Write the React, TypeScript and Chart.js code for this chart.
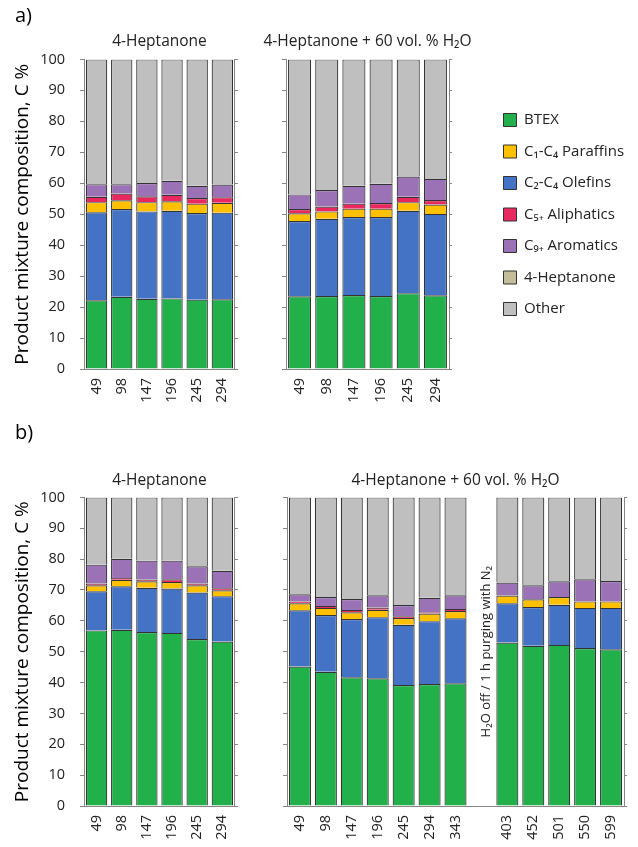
import React, { useEffect, useRef } from 'react';
import { Chart, registerables } from 'chart.js';

Chart.register(...registerables);

const FONT = '"Open Sans", "DejaVu Sans", sans-serif';
const TEXT = '#222222';
const AXIS = '#868686';
const EDGE = '#333333';

// ---- series (legend order) ----
const seriesNames = ['BTEX', 'C₁-C₄ Paraffins', 'C₂-C₄ Olefins', 'C₅₊ Aliphatics', 'C₉₊ Aromatics', '4-Heptanone', 'Other'];
const seriesColors = ['#22b04b', '#ffc000', '#4472c4', '#ea2860', '#9b72b5', '#c4bd97', '#bfbfbf'];

// ---- categories (time on stream, min) ----
const catsA = ['49', '98', '147', '196', '245', '294'];
const catsBRight = ['49', '98', '147', '196', '245', '294', '343', '', '403', '452', '501', '550', '599'];

// ---- panel a) 4-Heptanone ----
const aLeftBTEX = [22.2, 23.3, 22.7, 22.8, 22.4, 22.5];
const aLeftParaffins = [3.3, 2.8, 3.0, 3.1, 3.0, 3.2];
const aLeftOlefins = [28.4, 28.4, 28.2, 28.3, 28.0, 28.0];
const aLeftC5 = [1.7, 2.2, 1.9, 2.1, 1.8, 1.8];
const aLeftC9 = [4.1, 3.0, 4.3, 4.5, 4.0, 4.1];
const aLeftHeptanone = [0, 0, 0, 0, 0, 0];
const aLeftOther = [40.3, 40.3, 39.9, 39.2, 40.8, 40.4];

// ---- panel a) 4-Heptanone + 60 vol.% H2O ----
const aRightBTEX = [23.5, 23.6, 23.9, 23.6, 24.5, 23.8];
const aRightParaffins = [2.5, 2.4, 2.7, 2.7, 2.8, 3.0];
const aRightOlefins = [24.3, 24.9, 25.2, 25.5, 26.6, 26.3];
const aRightC5 = [1.4, 1.6, 1.6, 1.8, 1.7, 1.5];
const aRightC9 = [4.7, 5.3, 5.8, 6.2, 6.6, 6.8];
const aRightHeptanone = [0, 0, 0, 0, 0, 0];
const aRightOther = [43.6, 42.2, 40.8, 40.2, 37.8, 38.6];

// ---- panel b) 4-Heptanone ----
const bLeftBTEX = [56.9, 57.1, 56.4, 56.1, 54.1, 53.3];
const bLeftParaffins = [1.9, 2.1, 2.1, 2.1, 2.3, 1.9];
const bLeftOlefins = [12.7, 14.1, 14.3, 14.4, 15.1, 14.7];
const bLeftC5 = [0.6, 0.6, 0.6, 0.9, 0.6, 0.7];
const bLeftC9 = [6.1, 6.2, 6.1, 6.0, 5.6, 5.6];
const bLeftHeptanone = [0, 0, 0, 0, 0, 0];
const bLeftOther = [21.8, 19.9, 20.5, 20.5, 22.3, 23.8];

// ---- panel b) 4-Heptanone + 60 vol.% H2O (slot 8 = H2O off) ----
const bRightBTEX = [45.2, 43.5, 41.7, 41.4, 39.2, 39.5, 39.8, null, 53.0, 51.9, 52.2, 51.2, 50.8];
const bRightParaffins = [2.3, 2.3, 2.2, 2.4, 2.2, 2.5, 2.4, null, 2.5, 2.5, 2.5, 2.1, 2.1];
const bRightOlefins = [18.2, 18.4, 18.9, 19.8, 19.5, 20.4, 21.0, null, 12.7, 12.6, 13.0, 13.0, 13.4];
const bRightC5 = [0.6, 0.6, 0.7, 0.7, 0.6, 0.4, 0.6, null, 0, 0, 0, 0, 0];
const bRightC9 = [2.3, 2.9, 3.6, 4.0, 3.6, 4.7, 4.5, null, 4.2, 4.5, 5.1, 7.2, 6.6];
const bRightHeptanone = [0, 0, 0, 0, 0, 0, 0, null, 0, 0, 0, 0, 0];
const bRightOther = [31.4, 32.3, 32.9, 31.7, 34.9, 32.5, 31.7, null, 27.6, 28.5, 27.2, 26.5, 27.1];

const yTicks = { min: 0, max: 100, step: 10 };
const yTitleText = 'Product mixture composition, C %';
const titleA = '4-Heptanone';
const titleWater = '4-Heptanone + 60 vol. % H₂O';
const gapIndex = 7;
const gapNote = 'H₂O off / 1 h purging with N₂';
const gapNoteLevel = 50;

// stacking order (bottom -> top): BTEX, Olefins, Paraffins, C5+, C9+, 4-Heptanone, Other
const stackOrder = [0, 2, 1, 3, 4, 5, 6];

function buildDatasets(values: (number | null)[][]) {
  return stackOrder.map((si) => ({
    label: seriesNames[si],
    data: values[si],
    backgroundColor: seriesColors[si],
    borderColor: EDGE,
    borderWidth: 1.2,
    barPercentage: 0.85,
    categoryPercentage: 1,
  }));
}

type Geo = {
  padLeft: number;
  padTop: number;
  padRight: number;
  yWidth: number;
  y2Width: number;
  xHeight: number;
  showY: boolean;
  corner?: string;
  cornerPad?: { top: number; bottom: number };
  subtitle: string;
  subFull?: boolean;
  subPadBottom: number;
};

const gapNotePlugin = {
  id: 'gapNote',
  afterDatasetsDraw(chart: any) {
    const { ctx, scales } = chart;
    const px = scales.x.getPixelForValue(gapIndex);
    const py = scales.y.getPixelForValue(gapNoteLevel);
    ctx.save();
    ctx.translate(px + 5, py);
    ctx.rotate(-Math.PI / 2);
    ctx.textAlign = 'center';
    ctx.textBaseline = 'middle';
    ctx.font = `13px ${FONT}`;
    ctx.fillStyle = TEXT;
    ctx.fillText(gapNote, 0, 0);
    ctx.restore();
  },
};

function barConfig(labels: string[], values: (number | null)[][], g: Geo, withNote = false): any {
  return {
    type: 'bar',
    data: { labels, datasets: buildDatasets(values) },
    plugins: withNote ? [gapNotePlugin] : [],
    options: {
      responsive: false,
      animation: false,
      events: [],
      layout: { padding: { left: g.padLeft, top: g.padTop, right: g.padRight, bottom: 0 } },
      plugins: {
        legend: { display: false },
        tooltip: { enabled: false },
        title: {
          display: !!g.corner,
          text: g.corner || '',
          align: 'start',
          fullSize: true,
          color: '#000',
          font: { family: FONT, size: 20, weight: 'normal' },
          padding: g.cornerPad || { top: 0, bottom: 0 },
        },
        subtitle: {
          display: true,
          text: g.subtitle,
          fullSize: !!g.subFull,
          color: TEXT,
          font: { family: FONT, size: 15.5, weight: 'normal' },
          padding: { top: 0, bottom: g.subPadBottom },
        },
      },
      scales: {
        x: {
          stacked: true,
          grid: { display: false, drawTicks: false },
          border: { display: true, color: AXIS, width: 1 },
          ticks: {
            autoSkip: false,
            minRotation: 90,
            maxRotation: 90,
            padding: 9,
            color: TEXT,
            font: { family: FONT, size: 14.5 },
          },
          afterFit: (s: any) => { s.height = g.xHeight; },
        },
        y: {
          stacked: true,
          min: yTicks.min,
          max: yTicks.max,
          ticks: {
            stepSize: yTicks.step,
            display: g.showY,
            padding: 15,
            color: TEXT,
            font: { family: FONT, size: 14.5 },
          },
          grid: { drawOnChartArea: false, drawTicks: true, tickLength: 4, color: AXIS },
          border: { display: true, color: AXIS, width: 1 },
          title: {
            display: g.showY,
            text: yTitleText,
            color: '#000',
            font: { family: FONT, size: 19, lineHeight: 0.8 },
            padding: { top: 0, bottom: 0 },
          },
          afterFit: (s: any) => { s.width = g.yWidth; },
        },
        y2: {
          position: 'right',
          min: yTicks.min,
          max: yTicks.max,
          ticks: { stepSize: yTicks.step, display: false },
          grid: { drawOnChartArea: false, drawTicks: true, tickLength: 3, color: AXIS },
          border: { display: true, color: AXIS, width: 1 },
          afterFit: (s: any) => { s.width = g.y2Width; },
        },
      },
    },
  };
}

function legendConfig(): any {
  return {
    type: 'bar',
    data: {
      labels: [],
      datasets: seriesNames.map((n, i) => ({
        label: n,
        data: [],
        backgroundColor: seriesColors[i],
        borderColor: EDGE,
        borderWidth: 1,
      })),
    },
    options: {
      responsive: false,
      animation: false,
      events: [],
      layout: { padding: 0 },
      plugins: {
        tooltip: { enabled: false },
        legend: {
          display: true,
          position: 'left',
          align: 'start',
          maxWidth: 148,
          labels: {
            boxWidth: 13,
            boxHeight: 13,
            padding: 16.5,
            color: TEXT,
            font: { family: FONT, size: 15 },
          },
        },
      },
      scales: { x: { display: false }, y: { display: false } },
    },
  };
}

function ChartBox(props: { left: number; top: number; width: number; height: number; make: () => any }) {
  const ref = useRef<HTMLCanvasElement>(null);
  useEffect(() => {
    const chart = new Chart(ref.current as HTMLCanvasElement, props.make());
    return () => chart.destroy();
  }, []);
  const { left, top, width, height } = props;
  return (
    <div style={{ position: 'absolute', left, top, width, height }}>
      <canvas ref={ref} width={width} height={height} style={{ display: 'block', width, height }} />
    </div>
  );
}

export default function App() {
  return (
    <div style={{ position: 'absolute', left: 0, top: 0, width: 638, height: 847, background: '#fff', overflow: 'hidden' }}>
      <ChartBox
        left={0} top={0} width={250} height={420}
        make={() => barConfig(catsA,
          [aLeftBTEX, aLeftParaffins, aLeftOlefins, aLeftC5, aLeftC9, aLeftHeptanone, aLeftOther],
          { padLeft: 15, padTop: 0, padRight: 1, yWidth: 69, y2Width: 4, xHeight: 51, showY: true,
            corner: 'a)', cornerPad: { top: 4, bottom: 4.4 }, subtitle: titleA, subPadBottom: 8.4 })}
      />
      <ChartBox
        left={257} top={0} width={221} height={420}
        make={() => barConfig(catsA,
          [aRightBTEX, aRightParaffins, aRightOlefins, aRightC5, aRightC9, aRightHeptanone, aRightOther],
          { padLeft: 0, padTop: 32.4, padRight: 0, yWidth: 29, y2Width: 29, xHeight: 51, showY: false,
            subtitle: titleWater, subFull: true, subPadBottom: 8.4 })}
      />
      <ChartBox left={487} top={96} width={151} height={260} make={legendConfig} />
      <ChartBox
        left={0} top={420} width={250} height={427}
        make={() => barConfig(catsA,
          [bLeftBTEX, bLeftParaffins, bLeftOlefins, bLeftC5, bLeftC9, bLeftHeptanone, bLeftOther],
          { padLeft: 15, padTop: 0, padRight: 1, yWidth: 69, y2Width: 4, xHeight: 41, showY: true,
            corner: 'b)', cornerPad: { top: 1, bottom: 26.4 }, subtitle: titleA, subPadBottom: 7.4 })}
      />
      <ChartBox
        left={262} top={420} width={376} height={427}
        make={() => barConfig(catsBRight,
          [bRightBTEX, bRightParaffins, bRightOlefins, bRightC5, bRightC9, bRightHeptanone, bRightOther],
          { padLeft: 0, padTop: 51.4, padRight: 0, yWidth: 25, y2Width: 2, xHeight: 41, showY: false,
            subtitle: titleWater, subPadBottom: 7.4 }, true)}
      />
    </div>
  );
}
